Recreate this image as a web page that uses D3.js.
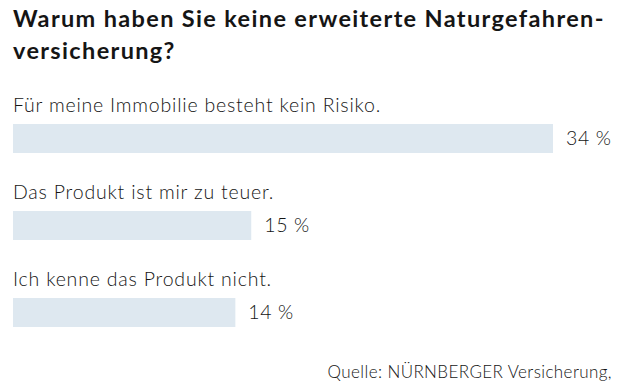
<!DOCTYPE html>
<html><head><meta charset="utf-8">
<script src="https://cdn.jsdelivr.net/npm/d3@7"></script>
<style>
html,body{margin:0;padding:0;background:#fff;}
svg{display:block;}
text{font-family:Lato,"Open Sans",sans-serif;fill:#151515;}
</style></head>
<body><svg id="c" width="621" height="383"></svg>
<script>
const titleLines = ["Warum haben Sie keine erweiterte Naturgefahren-", "versicherung?"];
const categories = ["Für meine Immobilie besteht kein Risiko.", "Das Produkt ist mir zu teuer.", "Ich kenne das Produkt nicht."];
const values = [34, 15, 14];
const source = "Quelle: NÜRNBERGER Versicherung,";

const svg = d3.select("#c");
const left = 13;

// fit text to a target width by adjusting letter spacing
function fit(sel, target) {
  sel.each(function() {
    const t = d3.select(this);
    const n = this.textContent.length;
    const w = this.getComputedTextLength();
    if (target) t.attr("letter-spacing", ((target - w) / n).toFixed(2));
  });
}

const title = svg.append("g").selectAll("text").data(titleLines).join("text")
  .attr("x", left).attr("y", (d,i)=>27 + i*32)
  .attr("font-size", 23.5).attr("font-weight", 700)
  .text(d=>d);
fit(title.filter((d,i)=>i===0), 592);
title.filter((d,i)=>i===1).attr("letter-spacing", title.filter((d,i)=>i===0).attr("letter-spacing"));

const x = d3.scaleLinear().domain([0, 34]).range([left, 553]);
const y = d3.scaleBand().domain(categories).range([86, 347]).paddingInner(0);

const row = svg.append("g").selectAll("g").data(categories).join("g")
  .attr("transform", d=>`translate(0,${y(d)})`);

row.append("text").attr("x", left).attr("y", 26)
  .attr("font-size", 19.5).attr("font-weight", 300).attr("letter-spacing", 0.8)
  .text(d=>d);

row.append("rect").attr("x", x(0)).attr("y", 38)
  .attr("width", (d,i)=>x(values[i]) - x(0)).attr("height", 29)
  .attr("fill", "#dee8f0");

row.append("text").attr("x", (d,i)=>x(values[i]) + 13).attr("y", 58.5)
  .attr("font-size", 19.5).attr("font-weight", 300).attr("letter-spacing", 0.6)
  .text((d,i)=>values[i] + " %");

svg.append("text").attr("x", 612).attr("y", 378).attr("text-anchor", "end")
  .attr("font-size", 17).attr("font-weight", 300).attr("letter-spacing", 0.4).text(source);
</script></body></html>
